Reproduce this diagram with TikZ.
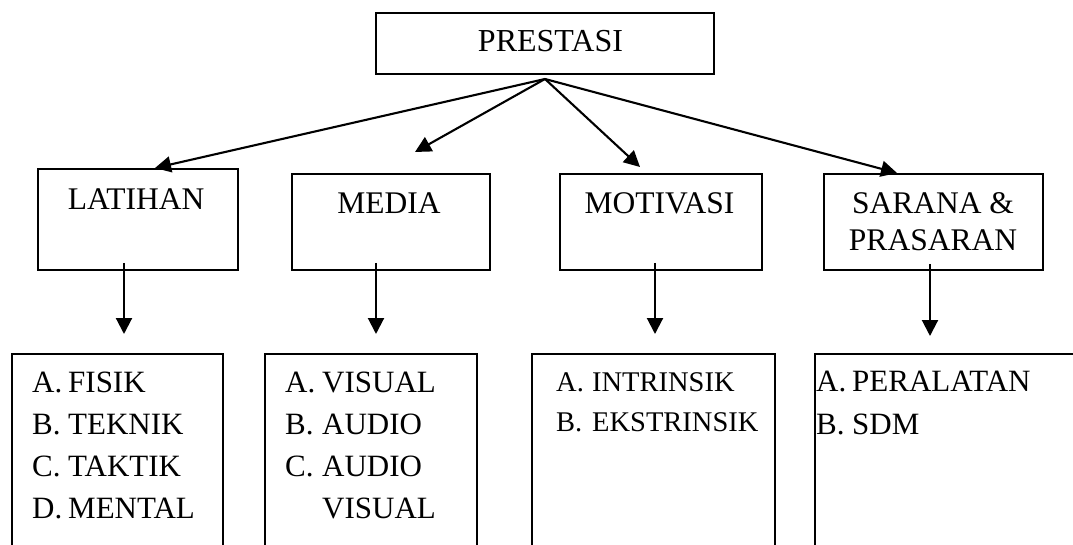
\documentclass[tikz,border=0pt]{standalone}
\usepackage{fontspec}
\setmainfont{Liberation Serif}
\usetikzlibrary{arrows.meta}
\begin{document}
\begin{tikzpicture}[x=1pt,y=-1pt,
  box/.style={draw, line width=2pt, rectangle, inner sep=0pt, anchor=north west},
  txt/.style={font=\fontsize{31.5}{36}\selectfont, inner sep=0pt, anchor=base},
  arr/.style={line width=2.1pt, -{Triangle[length=16pt,width=16pt]}},
  list/.style={inner sep=0pt, anchor=north west, align=left}]
\useasboundingbox (0,0) rectangle (1073,545);
\clip (0,0) rectangle (1073,545);
% top
\node[box, minimum width=338pt, minimum height=61pt] (pres) at (375,12) {};
\node[txt, font=\fontsize{32}{36}\selectfont] (prest) at (550.5,51.7) {PRESTASI};
% middle row
\node[box, minimum width=200pt, minimum height=101pt] (lat) at (37,168) {};
\node[txt] (latt) at (136,209.3) {LATIHAN};
\node[box, minimum width=198pt, minimum height=96pt] (med) at (291,173) {};
\node[txt] (medt) at (389,213.3) {MEDIA};
\node[box, minimum width=202pt, minimum height=96pt] (mot) at (559,173) {};
\node[txt] (mott) at (659.5,213.3) {MOTIVASI};
\node[box, minimum width=219pt, minimum height=96pt] (sar) at (823,173) {};
\node[txt] (sart1) at (933,213.3) {SARANA \&};
\node[txt] (sart2) at (933,250.7) {PRASARAN};
% bottom row (open at the bottom)
\node[box, minimum width=211pt, minimum height=250pt] (fis) at (11,353) {};
\node[box, minimum width=212pt, minimum height=250pt] (vis) at (264,353) {};
\node[box, minimum width=243pt, minimum height=250pt] (int) at (531,353) {};
\node[box, minimum width=300pt, minimum height=250pt] (per) at (814,353) {};
\node[list, font=\fontsize{31}{42}\selectfont] (fist) at (32,363.3)
  {\begin{tabular}{@{}p{36pt}@{}l@{}}A. & FISIK\\ B. & TEKNIK\\ C. & TAKTIK\\ D. & MENTAL\end{tabular}};
\node[list, font=\fontsize{31}{42}\selectfont] (vist) at (285,363.3)
  {\begin{tabular}{@{}p{37pt}@{}l@{}}A. & VISUAL\\ B. & AUDIO\\ C. & AUDIO\\ & VISUAL\end{tabular}};
\node[list, font=\fontsize{28.5}{40}\selectfont] (intt) at (556,363.7)
  {\begin{tabular}{@{}p{36pt}@{}l@{}}A. & INTRINSIK\\ B. & EKSTRINSIK\end{tabular}};
\node[list, font=\fontsize{31}{43}\selectfont] (pert) at (816,361.6)
  {\begin{tabular}{@{}p{36pt}@{}l@{}}A. & PERALATAN\\ B. & SDM\end{tabular}};
% connectors
\coordinate (src) at (545,79);
\coordinate (medtip) at (415,152);
\draw[arr] (src) -- ([xshift=118pt]lat.north west);
\draw[arr] (src) -- (medtip);
\draw[arr] (src) -- ([xshift=81pt,yshift=6pt]mot.north west);
\draw[arr] (src) -- ([xshift=74pt]sar.north west);
\draw[arr] ([xshift=87pt,yshift=8pt]lat.south west) -- ([xshift=113pt,yshift=19pt]fis.north west);
\draw[arr] ([xshift=85pt,yshift=8pt]med.south west) -- ([xshift=112pt,yshift=19pt]vis.north west);
\draw[arr] ([xshift=96pt,yshift=8pt]mot.south west) -- ([xshift=124pt,yshift=19pt]int.north west);
\draw[arr] ([xshift=107pt,yshift=7pt]sar.south west) -- ([xshift=116pt,yshift=17pt]per.north west);
\end{tikzpicture}
\end{document}
